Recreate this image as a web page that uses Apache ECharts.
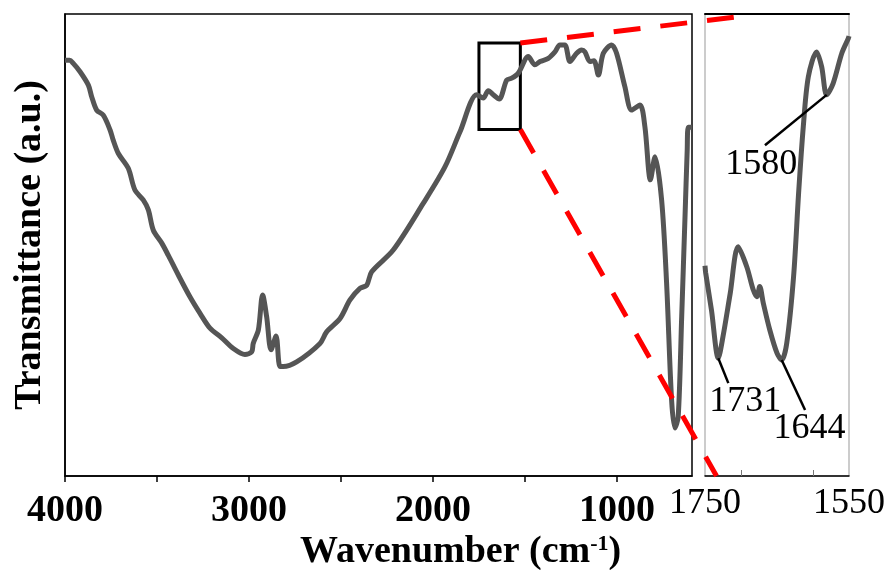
<!DOCTYPE html>
<html>
<head>
<meta charset="utf-8">
<script src="https://cdn.jsdelivr.net/npm/echarts@6/dist/echarts.min.js"></script>
<style>
    html, body { margin: 0; padding: 0; background: #fff; }
    #main { width: 892px; height: 570px; }
</style>
</head>
<body>
<div id="main"></div>
<script>
    // full spectrum, wavenumber (cm-1) vs transmittance (a.u.)
    const mainWn = [4000, 3975, 3955, 3918, 3873, 3855, 3828, 3792, 3755, 3738, 3710, 3656, 3620, 3574, 3547, 3520,
        3474, 3439, 3384, 3321, 3266, 3212, 3148, 3085, 3022, 2985, 2977, 2949, 2926, 2904, 2880, 2853, 2832, 2814,
        2741, 2614, 2578, 2505, 2451, 2397, 2360, 2333, 2216, 2053, 1935, 1853, 1762, 1727, 1699, 1672, 1640, 1599,
        1572, 1536, 1482, 1446, 1418, 1373, 1337, 1310, 1283, 1255, 1219, 1192, 1174, 1147, 1125, 1101, 1074, 1029,
        1002, 957, 920, 875, 848, 818, 793, 757, 730, 703, 685, 667, 648, 630, 618, 612, 592];
    const mainT = [90.0, 90.0, 89.3, 87.5, 84.6, 82.1, 79.2, 78.1, 74.9, 72.7, 69.8, 66.6, 61.9, 59.7, 57.6, 53.2,
        50.4, 47.8, 43.5, 38.8, 35.2, 32.0, 29.9, 27.6, 26.3, 26.9, 28.7, 31.6, 39.2, 34.5, 27.3, 30.3, 23.7, 23.7,
        24.7, 28.7, 31.2, 34.1, 38.1, 40.6, 41.3, 44.2, 48.9, 59.0, 66.9, 74.5, 82.5, 81.8, 83.4, 82.5, 81.6, 85.7,
        86.1, 87.2, 90.8, 89.0, 89.7, 90.4, 91.8, 93.3, 93.3, 89.7, 91.5, 92.2, 91.8, 89.7, 89.9, 86.8, 91.5, 93.3,
        91.5, 84.3, 79.2, 80.3, 75.6, 64.1, 69.1, 59.7, 41.7, 16.5, 10.4, 12.8, 34.5, 56.1, 70.6, 75.5, 75.5];

    // zoomed region 1750-1550 cm-1
    const insetWn = [1750, 1749, 1741, 1731.5, 1725, 1715, 1704, 1692, 1683, 1678, 1674, 1669, 1660, 1650, 1643.5,
        1636.5, 1627, 1620, 1613.5, 1606.5, 1595, 1588, 1581, 1572, 1560, 1551, 1550];
    const insetT = [45.5, 43.9, 35.9, 25.5, 30.2, 39.5, 49.6, 45.3, 40.3, 38.8, 41.0, 37.4, 31.6, 26.6, 25.1,
        28.7, 43.1, 61.2, 75.6, 86.4, 91.8, 88.6, 82.5, 85.0, 91.5, 94.7, 95.2];

    // peak labels: [peak, leader end, label centre]
    const peakNames = ['1731', '1644', '1580'];
    const peakAt = [[1731.5, 25.5], [1643.5, 25.1], [1581, 82.5]];
    const leaderEnd = [[1717.6, 20.1], [1611, 14.3], [1666.7, 71.6]];
    const labelAt = [[1694, 16.2], [1605, 10.2], [1672, 67.5]];

    // zoom box on the full spectrum
    const boxWn = [1750, 1525];
    const boxT = [93.7, 75.0];

    const mainTicks = [1000, 1500, 2000, 2500, 3000, 3500, 4000];
    const mainLabels = [1000, 2000, 3000, 4000];
    const insetTicks = [1700, 1600];
    const insetLabels = [1750, 1550];

    const font = '"Times New Roman", "Liberation Serif", serif';

    var chart = echarts.init(document.getElementById('main'));
    var option = {
        animation: false,
        backgroundColor: '#fff',
        textStyle: { fontFamily: font },
        grid: [
            { left: 65, top: 14, width: 627, height: 462, show: true, borderColor: '#000', borderWidth: 1.5, outerBoundsMode: 'none' },
            { left: 705, top: 14, width: 144, height: 462, show: true, borderColor: '#999', borderWidth: 1, outerBoundsMode: 'none' }
        ],
        xAxis: [
            {
                type: 'value', gridIndex: 0, min: 592, max: 4000, inverse: true,
                splitLine: { show: false },
                axisLine: { lineStyle: { color: '#000', width: 1.5 } },
                axisTick: { customValues: mainTicks, length: 6, lineStyle: { color: '#000', width: 1.5 } },
                axisLabel: {
                    customValues: mainLabels, margin: 16, color: '#000',
                    fontFamily: font, fontSize: 38, fontWeight: 'bold',
                    formatter: v => String(v)
                }
            },
            {
                type: 'value', gridIndex: 1, min: 1550, max: 1750, inverse: true,
                splitLine: { show: false },
                axisLine: { lineStyle: { color: '#000', width: 1.5 } },
                axisTick: { customValues: insetTicks, inside: true, length: 6, lineStyle: { color: '#777', width: 1 } },
                axisLabel: {
                    customValues: insetLabels, margin: 10, color: '#000',
                    fontFamily: font, fontSize: 36,
                    formatter: v => String(v)
                }
            },
            {
                type: 'value', gridIndex: 1, min: 1550, max: 1750, inverse: true, position: 'top',
                splitLine: { show: false },
                axisLine: { lineStyle: { color: '#000', width: 2 } },
                axisTick: { show: false },
                axisLabel: { show: false }
            }
        ],
        yAxis: [
            {
                type: 'value', gridIndex: 0, min: 0, max: 100,
                name: 'Transmittance (a.u.)', nameLocation: 'middle', nameGap: 16,
                nameTextStyle: { fontFamily: font, fontSize: 38, fontWeight: 'bold', color: '#000' },
                splitLine: { show: false },
                axisLine: { show: true, lineStyle: { color: '#000', width: 1.5 } },
                axisTick: { show: false },
                axisLabel: { show: false }
            },
            {
                type: 'value', gridIndex: 1, min: 0, max: 100,
                splitLine: { show: false },
                axisLine: { show: false },
                axisTick: { show: false },
                axisLabel: { show: false }
            }
        ],
        series: [
            {
                type: 'line', xAxisIndex: 0, yAxisIndex: 0,
                data: mainWn.map((w, i) => [w, mainT[i]]),
                symbol: 'none', smooth: 0.3,
                lineStyle: { color: '#555', width: 5 },
                markArea: {
                    silent: true,
                    itemStyle: { color: 'rgba(0,0,0,0)', borderColor: '#000', borderWidth: 3 },
                    data: [[{ coord: [boxWn[0], boxT[0]] }, { coord: [boxWn[1], boxT[1]] }]]
                }
            },
            {
                type: 'line', xAxisIndex: 1, yAxisIndex: 1,
                data: insetWn.map((w, i) => [w, insetT[i]]),
                symbol: 'none', smooth: 0.3,
                lineStyle: { color: '#555', width: 5 },
                markLine: {
                    silent: true, symbol: 'none',
                    label: { show: false },
                    lineStyle: { color: '#000', width: 2.5, type: 'solid' },
                    data: peakAt.map((p, i) => [{ coord: p }, { coord: leaderEnd[i] }])
                },
                markPoint: {
                    silent: true, symbol: 'circle', symbolSize: 0,
                    label: {
                        show: true, position: 'inside', color: '#000',
                        fontFamily: font, fontSize: 36,
                        formatter: p => p.name
                    },
                    data: peakNames.map((n, i) => ({ name: n, coord: labelAt[i] }))
                }
            }
        ],
        graphic: [
            {
                type: 'text', left: 300, top: 533,
                style: {
                    text: '{a|Wavenumber (cm}{s|-1}{a|)}',
                    rich: {
                        a: { fontFamily: font, fontSize: 38, fontWeight: 'bold', fill: '#000' },
                        s: { fontFamily: font, fontSize: 22, fontWeight: 'bold', fill: '#000', verticalAlign: 'top', padding: [0, 0, 16, 0] }
                    }
                }
            }
        ]
    };
    chart.setOption(option);

    // red dashed guide lines from the zoom box to the inset
    const p1 = chart.convertToPixel({ gridIndex: 0 }, [boxWn[1], boxT[0]]);
    const p2 = chart.convertToPixel({ gridIndex: 0 }, [boxWn[1], boxT[1]]);
    const q1 = chart.convertToPixel({ gridIndex: 1 }, [1705, 99.4]);
    const q2 = chart.convertToPixel({ gridIndex: 1 }, [1734, 0]);
    const dash = { stroke: '#ff0000', lineWidth: 5, lineDash: [27, 20] };
    chart.setOption({
        graphic: [
            option.graphic[0],
            { type: 'line', z: 100, shape: { x1: p1[0], y1: p1[1], x2: q1[0], y2: q1[1] }, style: dash },
            { type: 'line', z: 100, shape: { x1: p2[0], y1: p2[1], x2: q2[0], y2: q2[1] }, style: dash }
        ]
    });
</script>
</body>
</html>
